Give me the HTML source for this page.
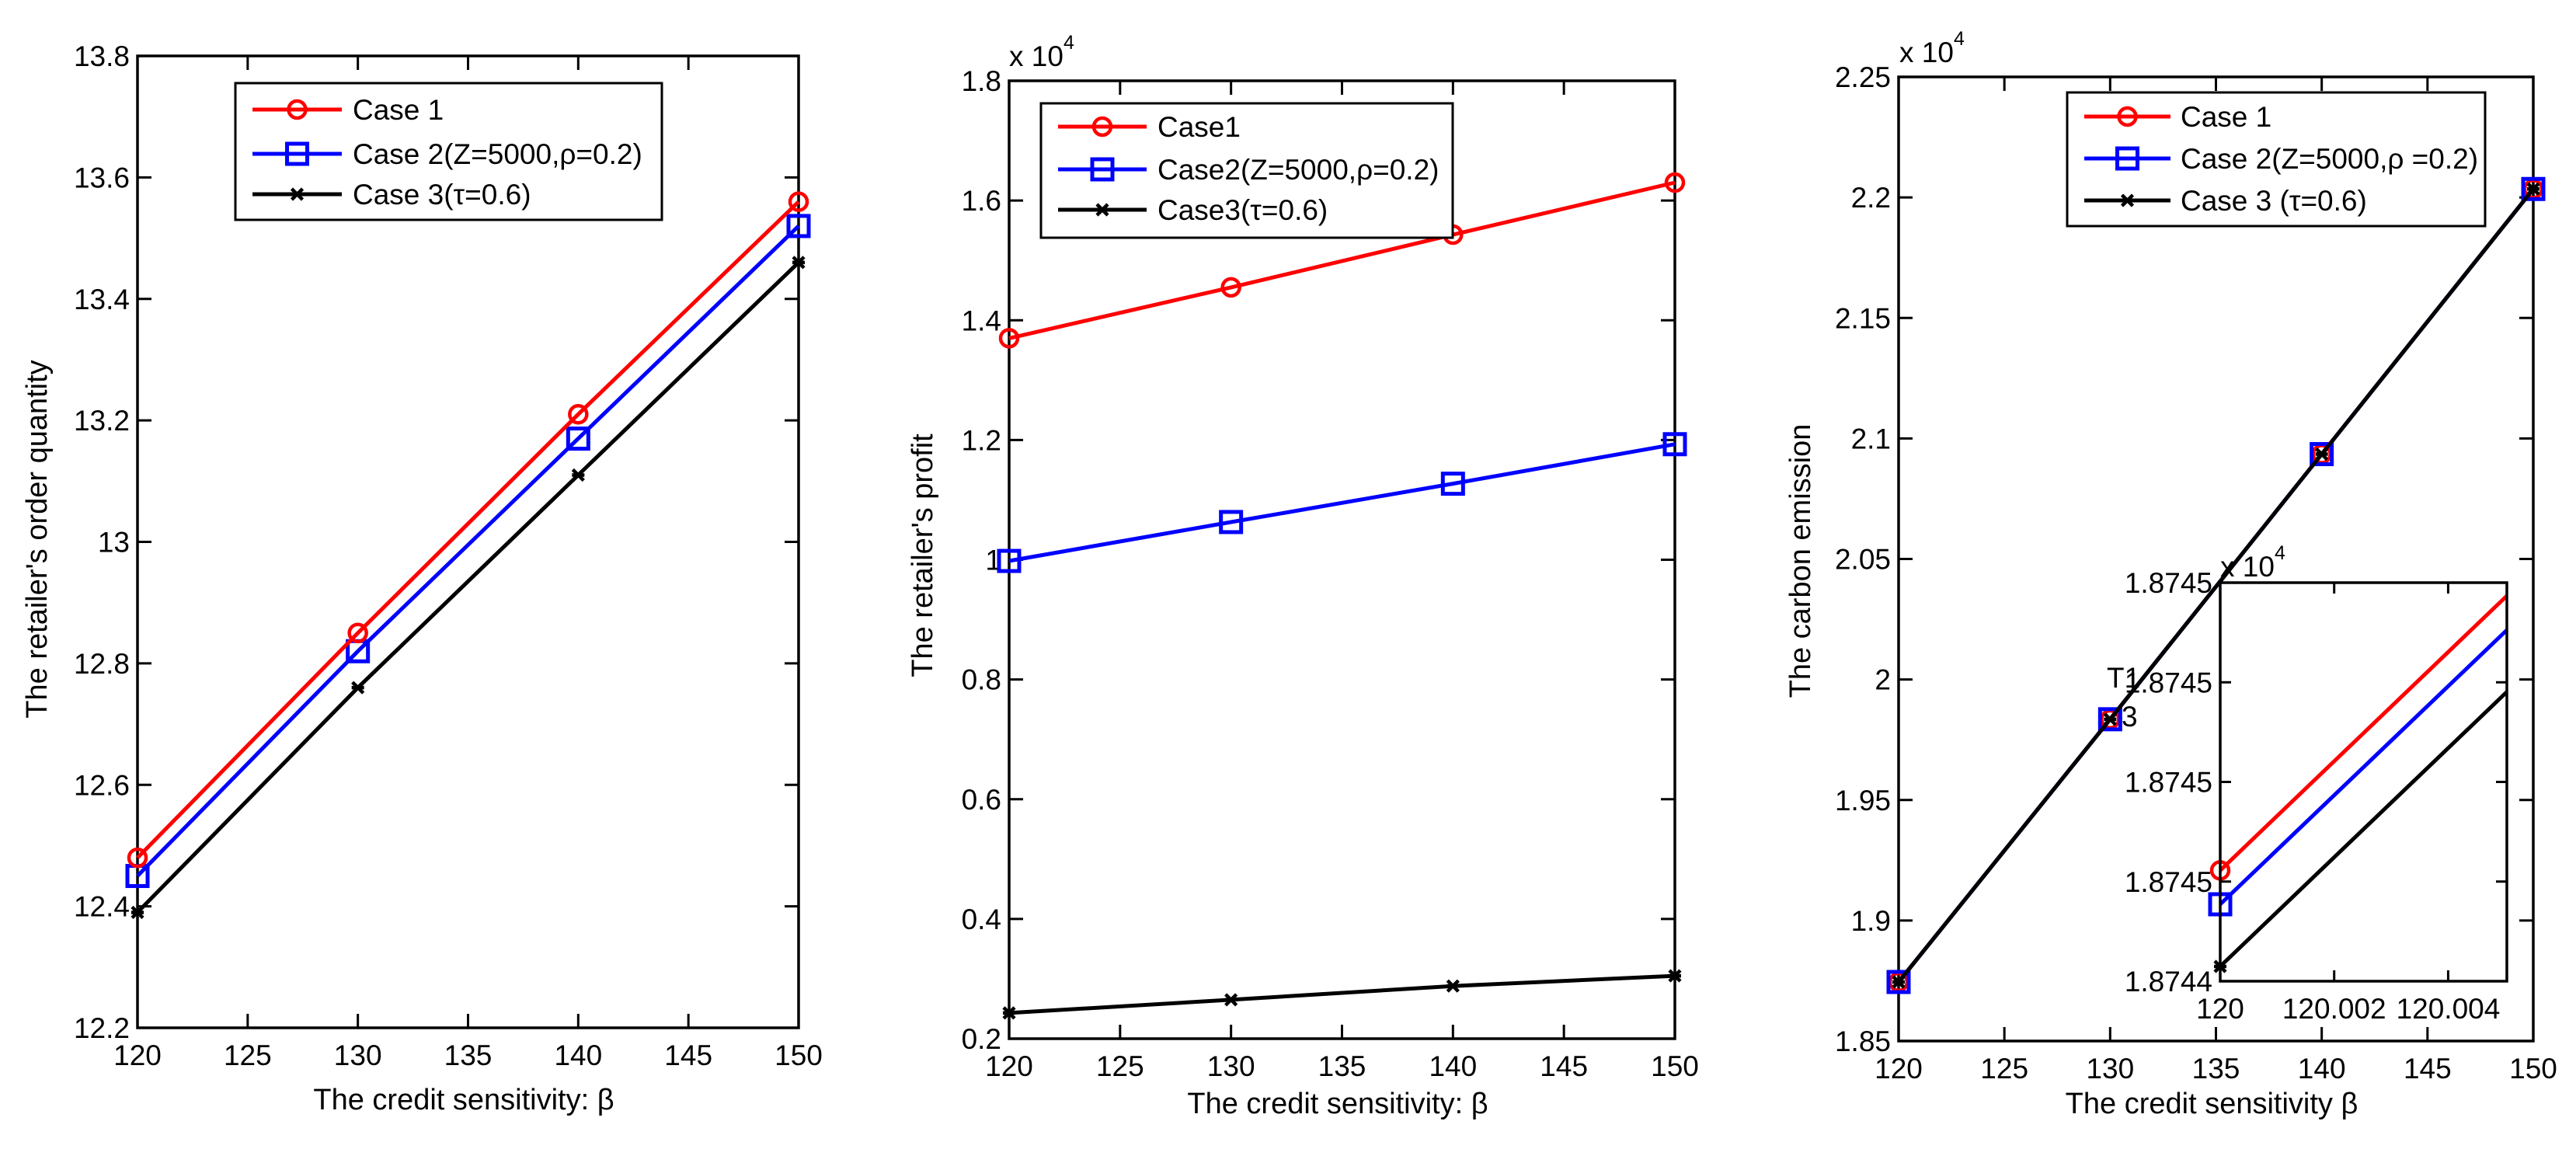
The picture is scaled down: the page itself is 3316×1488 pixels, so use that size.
<!DOCTYPE html>
<html><head><meta charset="utf-8"><style>
html,body{margin:0;padding:0;background:#fff;}
svg{display:block;font-family:"Liberation Sans",Arial,sans-serif;}
</style></head><body>
<svg id="fig" width="3316" height="1488" viewBox="0 0 3316 1488" xmlns="http://www.w3.org/2000/svg"></svg>
<script>
const xCats = [120, 130, 140, 150];
const xTicks = [120, 125, 130, 135, 140, 145, 150];
// Panel 1: order quantity
const p1Case1 = [12.48, 12.85, 13.21, 13.56];
const p1Case2 = [12.45, 12.82, 13.17, 13.52];
const p1Case3 = [12.39, 12.76, 13.11, 13.46];
const p1YTicks = [12.2, 12.4, 12.6, 12.8, 13, 13.2, 13.4, 13.6, 13.8];
const p1YLabels = ["12.2","12.4","12.6","12.8","13","13.2","13.4","13.6","13.8"];
// Panel 2: profit (x10^4)
const p2Case1 = [1.37, 1.455, 1.543, 1.63];
const p2Case2 = [0.998, 1.063, 1.127, 1.193];
const p2Case3 = [0.243, 0.265, 0.288, 0.305];
const p2YTicks = [0.2, 0.4, 0.6, 0.8, 1.0, 1.2, 1.4, 1.6, 1.8];
const p2YLabels = ["0.2","0.4","0.6","0.8","1","1.2","1.4","1.6","1.8"];
// Panel 3: carbon emission (x10^4)
const p3Case1 = [1.8745, 1.9835, 2.0935, 2.2035];
const p3Case2 = [1.8745, 1.9835, 2.0935, 2.2035];
const p3Case3 = [1.8745, 1.9835, 2.0935, 2.2035];
const p3YTicks = [1.85, 1.9, 1.95, 2.0, 2.05, 2.1, 2.15, 2.2, 2.25];
const p3YLabels = ["1.85","1.9","1.95","2","2.05","2.1","2.15","2.2","2.25"];
// Inset (normalized units)
const inXCats = [120, 120.00503];
const inXTicks = [120, 120.002, 120.004];
const inXLabels = ["120","120.002","120.004"];
const inCase1 = [0.278, 0.967];
const inCase2 = [0.193, 0.881];
const inCase3 = [0.037, 0.726];
const inYTicks = [0, 0.25, 0.5, 0.75, 1];
const inYLabels = ["1.8744","1.8745","1.8745","1.8745","1.8745"];

const svg = document.getElementById('fig');
const NS = 'http://www.w3.org/2000/svg';
function mk(tag, attrs, parent, text) {
  const e = document.createElementNS(NS, tag);
  for (const k in attrs) e.setAttribute(k, attrs[k]);
  if (text !== undefined) e.textContent = text;
  (parent || svg).appendChild(e);
  return e;
}
const FS = 37;
function scale(d0, d1, r0, r1) { return v => r0 + (v - d0) / (d1 - d0) * (r1 - r0); }

function marker(g, type, x, y, color) {
  let m;
  if (type === 'circle') {
    m = mk('circle', {cx: x, cy: y, r: 11, fill: 'none', stroke: color, 'stroke-width': 4.5}, g);
  } else if (type === 'square') {
    m = mk('rect', {x: x - 13, y: y - 13, width: 26, height: 26, fill: 'none', stroke: color, 'stroke-width': 5}, g);
  } else {
    m = mk('path', {d: `M${x-7},${y-7}L${x+7},${y+7}M${x-7},${y+7}L${x+7},${y-7}M${x-8},${y}L${x+8},${y}`, stroke: color, 'stroke-width': 4.5}, g);
  }
  
  
}

function series(g, xs, ys, sx, sy, color, mtype, name, markIdx) {
  const pts = xs.map((x, i) => sx(x).toFixed(1) + ',' + sy(ys[i]).toFixed(1)).join(' ');
  const l = mk('polyline', {points: pts, fill: 'none', stroke: color, 'stroke-width': 5}, g);
  
  
  xs.forEach((x, i) => { if (!markIdx || markIdx.includes(i)) marker(g, mtype, sx(x), sy(ys[i]), color); });
}

function axesBox(g, L, T, R, B, sx, sy, xt, xl, yt, yl, tickLen, name) {
  const f = mk('rect', {x: L, y: T, width: R - L, height: B - T, fill: 'none', stroke: '#000', 'stroke-width': 3.5}, g);
  
  
  xt.forEach((v, i) => {
    const x = sx(v);
    mk('line', {x1: x, y1: B, x2: x, y2: B - tickLen, stroke: '#000', 'stroke-width': 3}, g);
    mk('line', {x1: x, y1: T, x2: x, y2: T + tickLen, stroke: '#000', 'stroke-width': 3}, g);
    const t = mk('text', {x: x, y: B + 48, 'font-size': FS, 'text-anchor': 'middle'}, g, xl[i]);
    
    
  });
  yt.forEach((v, i) => {
    const y = sy(v);
    mk('line', {x1: L, y1: y, x2: L + tickLen, y2: y, stroke: '#000', 'stroke-width': 3}, g);
    mk('line', {x1: R, y1: y, x2: R - tickLen, y2: y, stroke: '#000', 'stroke-width': 3}, g);
    const t = mk('text', {x: L - 10, y: y + 13, 'font-size': FS, 'text-anchor': 'end'}, g, yl[i]);
    
    
  });
}

function legend(g, x0, y0, x1, y1, lx0, lx1, tx, rows, labels, name) {
  const box = mk('rect', {x: x0, y: y0, width: x1 - x0, height: y1 - y0, fill: '#fff', stroke: '#000', 'stroke-width': 3}, g);
  
  
  const colors = ['#ff0000', '#0000ff', '#000000'];
  const types = ['circle', 'square', 'star'];
  rows.forEach((y, i) => {
    const e = mk('g', {}, g);
    
    
    mk('line', {x1: lx0, y1: y, x2: lx1, y2: y, stroke: colors[i], 'stroke-width': 5}, e);
    marker(e, types[i], (lx0 + lx1) / 2, y, colors[i]);
    mk('text', {x: tx, y: y + 13, 'font-size': FS}, e, labels[i]);
  });
}

function vlabel(g, x, y, text, name) {
  const t = mk('text', {x: x, y: y, 'font-size': 38, 'text-anchor': 'middle', transform: `rotate(-90 ${x} ${y})`}, g, text);
  
  
}
function hlabel(g, x, y, text, name) {
  const t = mk('text', {x: x, y: y, 'font-size': 38, 'text-anchor': 'middle'}, g, text);
  
  
}
function expo(g, x, y, name) {
  const t = mk('text', {x: x, y: y, 'font-size': 37}, g);
  
  
  t.appendChild(document.createTextNode('x 10'));
  mk('tspan', {dy: -22, 'font-size': 25}, t, '4');
}

const xLabels = xTicks.map(String);

// ---- Panel 1 ----
{
  const g = mk('g', {});  
  const L = 177, R = 1028, T = 72, B = 1323;
  const sx = scale(120, 150, L, R), sy = scale(12.2, 13.8, B, T);
  axesBox(g, L, T, R, B, sx, sy, xTicks, xLabels, p1YTicks, p1YLabels, 18, 'p1');
  series(g, xCats, p1Case3, sx, sy, '#000', 'star', 'case3');
  series(g, xCats, p1Case2, sx, sy, '#0000ff', 'square', 'case2');
  series(g, xCats, p1Case1, sx, sy, '#ff0000', 'circle', 'case1');
  legend(g, 303, 107, 852, 283, 325, 440, 454, [141, 198, 250], ['Case 1', 'Case 2(Z=5000,ρ=0.2)', 'Case 3(τ=0.6)'], 'p1-legend');
  vlabel(g, 60, 694, "The retailer's order quantity", 'y-axis-title');
  hlabel(g, 597, 1428, 'The credit sensitivity: β', 'x-axis-title');
}
// ---- Panel 2 ----
{
  const g = mk('g', {});  
  const L = 1299, R = 2156, T = 104, B = 1337;
  const sx = scale(120, 150, L, R), sy = scale(0.2, 1.8, B, T);
  axesBox(g, L, T, R, B, sx, sy, xTicks, xLabels, p2YTicks, p2YLabels, 18, 'p2');
  series(g, xCats, p2Case1, sx, sy, '#ff0000', 'circle', 'case1');
  series(g, xCats, p2Case2, sx, sy, '#0000ff', 'square', 'case2');
  series(g, xCats, p2Case3, sx, sy, '#000', 'star', 'case3');
  legend(g, 1340, 133, 1870, 306, 1362, 1476, 1490, [163, 218, 270], ['Case1', 'Case2(Z=5000,ρ=0.2)', 'Case3(τ=0.6)'], 'p2-legend');
  expo(g, 1299, 85, 'y-exponent');
  vlabel(g, 1200, 715, "The retailer's  profit", 'y-axis-title');
  hlabel(g, 1722, 1433, 'The credit sensitivity: β', 'x-axis-title');
}
// ---- Panel 3 ----
{
  const g = mk('g', {});  
  const L = 2444, R = 3261, T = 99, B = 1340;
  const sx = scale(120, 150, L, R), sy = scale(1.85, 2.25, B, T);
  axesBox(g, L, T, R, B, sx, sy, xTicks, xLabels, p3YTicks, p3YLabels, 18, 'p3');
  series(g, xCats, p3Case1, sx, sy, '#ff0000', 'circle', 'case1');
  series(g, xCats, p3Case2, sx, sy, '#0000ff', 'square', 'case2');
  series(g, xCats, p3Case3, sx, sy, '#000', 'star', 'case3');
  legend(g, 2661, 119, 3199, 291, 2683, 2794, 2807, [150, 204, 258], ['Case 1', 'Case 2(Z=5000,ρ =0.2)', 'Case 3 (τ=0.6)'], 'p3-legend');
  expo(g, 2445, 80, 'y-exponent');
  vlabel(g, 2330, 722, 'The carbon emission', 'y-axis-title');
  hlabel(g, 2847, 1433, 'The credit sensitivity β', 'x-axis-title');
  const t1 = mk('text', {x: 2712, y: 885, 'font-size': FS}, g, 'T1');
   
  const t3 = mk('text', {x: 2731, y: 935, 'font-size': FS}, g, '3');
   

  // Inset
  const ig = mk('g', {}, g);  
  const iL = 2858, iR = 3227, iT = 750, iB = 1263;
  mk('rect', {x: iL, y: iT, width: iR - iL, height: iB - iT, fill: '#fff'}, ig);
  const isx = scale(inXCats[0], inXCats[1], iL, iR), isy = scale(0, 1, iB, iT);
  series(ig, inXCats, inCase1, isx, isy, '#ff0000', 'circle', 'inset-case1', [0]);
  series(ig, inXCats, inCase2, isx, isy, '#0000ff', 'square', 'inset-case2', [0]);
  series(ig, inXCats, inCase3, isx, isy, '#000', 'star', 'inset-case3', [0]);
  axesBox(ig, iL, iT, iR, iB, isx, isy, inXTicks, inXLabels, inYTicks, inYLabels, 14, 'inset');
  expo(ig, 2858, 742, 'inset-exponent');
}
</script>
</body></html>
